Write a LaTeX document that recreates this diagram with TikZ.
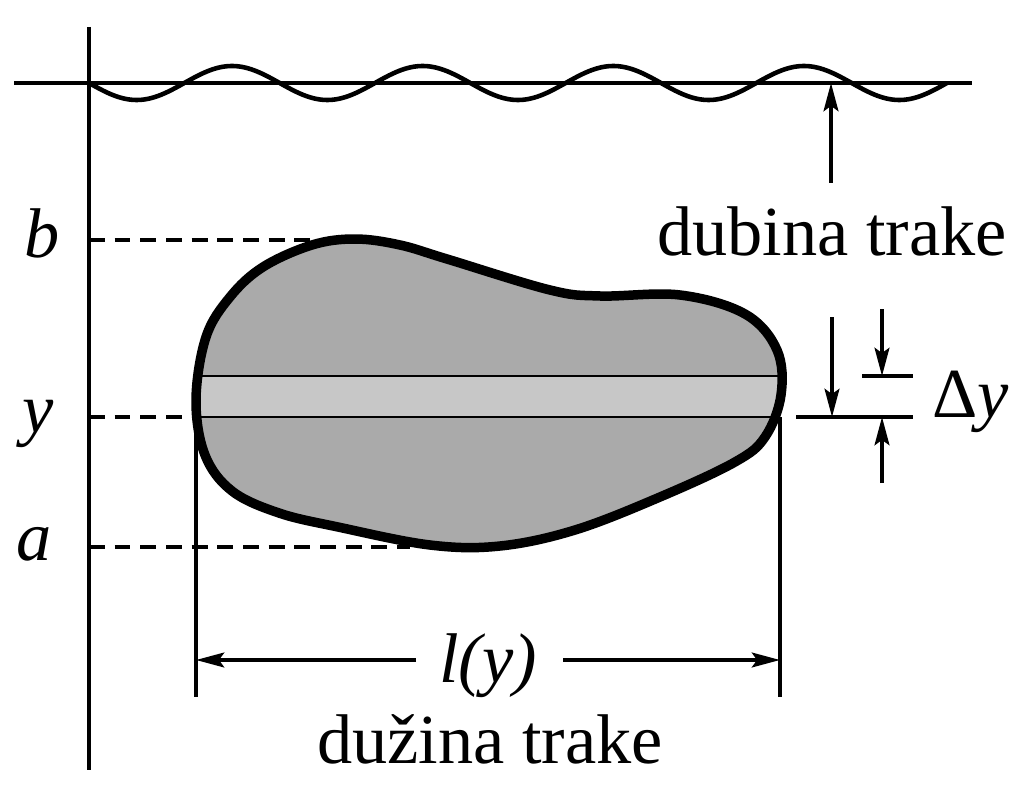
\documentclass[tikz,border=0pt]{standalone}
\usepackage{fontspec}
\setmainfont{Liberation Serif}
\usetikzlibrary{arrows.meta}

\definecolor{tijelo}{gray}{0.667}
\definecolor{traka}{gray}{0.78}

\tikzset{
    osa/.style={line width=1.3pt},
    obris/.style={line width=2.7pt, line join=round},
    crtkano/.style={line width=0.9pt, dash pattern=on 4.5pt off 2.8pt},
    kota/.style={line width=1.1pt},
    strelica/.style={line width=1.1pt, -{Stealth[length=8pt,width=4.2pt,inset=1.5pt]}},
    tekst/.style={font=\fontsize{20}{24}\selectfont, inner sep=0pt}
}

\newcommand{\obrisTijela}{plot[smooth cycle, tension=0.6] coordinates {
    (355,239) (400,245) (447,259) (550,290) (600,296) (680,295) (745,314)
    (777,350) (781,395) (765,437) (735,462) (660,497) (575,530) (500,546)
    (430,545) (338,527) (279,513) (232,491) (205,455) (196,400) (206,337)
    (230,297) (263,267) (312,245)}}

\begin{document}
\begin{tikzpicture}[x=0.01cm, y=-0.01cm]
    \useasboundingbox (0,0) rectangle (1024,791);

    % Povrsina i valovi
    \draw[osa] (14,83) -- (972,83);
    \draw[osa] plot[domain=0:858, samples=181, smooth]
        ({89+\x}, {83+17*sin(1.8882*\x)});

    % Os
    \draw[osa] (89,27) -- (89,770);

    % Tocke
    \coordinate (osB) at (89,240);
    \coordinate (vrhB) at (320,240);
    \coordinate (osY) at (89,417);
    \coordinate (lijevo) at (196,417);
    \coordinate (osA) at (89,547);
    \coordinate (dnoA) at (410,547);
    \coordinate (desno) at (780,417);
    \coordinate (lijevoDolje) at (196,697);
    \coordinate (desnoDolje) at (780,697);

    % Oznake na osi
    \node[tekst, anchor=base] (lb) at (42,258) {\textit{b}};
    \node[tekst, anchor=base] (ly0) at (38,432) {\textit{y}};
    \node[tekst, anchor=base] (la) at (34,560) {\textit{a}};

    % Crtkane linije
    \draw[crtkano] (osB) -- (vrhB);
    \draw[crtkano] (osY) -- (lijevo);
    \draw[crtkano] (osA) -- (dnoA);

    % Tijelo i traka
    \fill[tijelo] \obrisTijela;
    \begin{scope}
        \clip \obrisTijela;
        \fill[traka] (150,376) rectangle (800,417);
        \draw[line width=0.6pt] (150,376) -- (800,376) (150,417) -- (800,417);
    \end{scope}
    \draw[obris] \obrisTijela;

    % Duzina trake
    \draw[kota] (lijevo) -- (lijevoDolje);
    \draw[kota] (desno) -- (desnoDolje);
    \coordinate (kL) at (196,660);
    \coordinate (kD) at (780,660);
    \coordinate (kL0) at (416,660);
    \coordinate (kD0) at (563,660);
    \node[tekst, anchor=base] (ly) at (488,682) {\textit{l(y)}};
    \draw[strelica] (kL0) -- (kL);
    \draw[strelica] (kD0) -- (kD);
    \node[tekst, anchor=base] (duzina) at (490,763) {dužina trake};

    % Dubina trake
    \coordinate (dubVrh) at (831,83);
    \coordinate (dubDno) at (831,183);
    \draw[strelica] (dubDno) -- (dubVrh);
    \node[tekst, anchor=base] (dubina) at (832,255) {dubina trake};

    % Delta y
    \coordinate (dyA) at (796,417);
    \coordinate (dyB) at (913,417);
    \coordinate (dyC) at (862,376);
    \coordinate (dyD) at (913,376);
    \draw[kota] (dyA) -- (dyB);
    \draw[kota] (dyC) -- (dyD);
    \draw[strelica] (832,317) -- (832,417);
    \draw[strelica] (882,309) -- (882,376);
    \draw[strelica] (882,483) -- (882,417);
    \node[tekst, anchor=base west] (dy) at (932,417) {Δ\textit{y}};
\end{tikzpicture}
\end{document}
